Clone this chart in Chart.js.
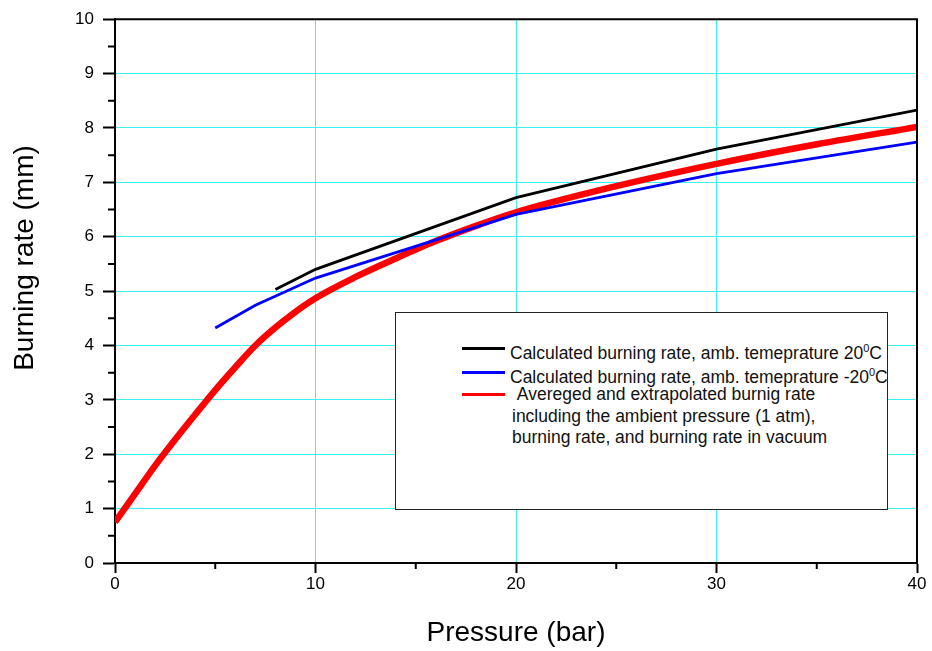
<!DOCTYPE html>
<html>
<head>
<meta charset="utf-8">
<script src="https://cdn.jsdelivr.net/npm/chart.js@4.4.1/dist/chart.umd.min.js"></script>
<style>
  html, body { margin: 0; padding: 0; background: #fff; }
  #quadro { position: relative; width: 932px; height: 651px; }
  #legenda {
    position: absolute; left: 395px; top: 312px; width: 493px; height: 198px;
    box-sizing: border-box; border: 1.5px solid #222; background: #fff;
    font-family: "Liberation Sans", Arial, sans-serif; font-size: 17.5px; color: #111;
  }
  .traco { position: absolute; left: 66px; width: 43px; height: 3px; }
  .texto { position: absolute; left: 114px; line-height: 21.5px; white-space: nowrap; }
  .sup { font-size: 11px; vertical-align: 7px; }
</style>
</head>
<body>
<div id="quadro">
  <canvas id="graficoQueima" width="932" height="651"></canvas>
  <div id="legenda">
    <div class="traco" style="top:34px;background:#000"></div>
    <div class="texto" style="top:25px">Calculated burning rate, amb. temeprature 20<span class="sup">0</span>C</div>
    <div class="traco" style="top:58px;background:#0000ff"></div>
    <div class="texto" style="top:49px">Calculated burning rate, amb. temeprature -20<span class="sup">0</span>C</div>
    <div class="traco" style="top:80px;background:#ff0000"></div>
    <div class="texto" style="top:71px;left:116px">&nbsp;Avereged and extrapolated burnig rate<br>including the ambient pressure (1 atm),<br>burning rate, and burning rate in vacuum</div>
  </div>
</div>
<script>
const pressaoPreto = [8, 10, 20, 30, 40];
const taxaPreto = [5.03, 5.40, 6.72, 7.61, 8.33];

const pressaoAzul = [5, 7, 10, 20, 30, 40];
const taxaAzul = [4.32, 4.74, 5.24, 6.41, 7.16, 7.74];

const pressaoVermelho = [0, 1, 2, 3, 4, 5, 6, 7, 8, 9, 10, 12, 14, 16, 18, 20, 25, 30, 35, 40];
const taxaVermelho = [0.75, 1.27, 1.79, 2.27, 2.73, 3.18, 3.6, 4.0, 4.33, 4.62, 4.87, 5.26, 5.6, 5.92, 6.2, 6.45, 6.93, 7.34, 7.7, 8.02];

const xMenores = [5, 15, 25, 35];
const yMenores = [0.5, 1.5, 2.5, 3.5, 4.5, 5.5, 6.5, 7.5, 8.5, 9.5];

const fonte = '"Liberation Sans", Arial, sans-serif';
const corGrade = "#40f0f0";

function pontos(xs, ys) {
  return xs.map((v, i) => ({ x: v, y: ys[i] }));
}

function corDaGrade(ctx, min, max) {
  const v = ctx.tick.value;
  if (v === min || v === max) return "rgba(0,0,0,0)";
  return corGrade;
}

const moldura = {
  id: "moldura",
  afterDraw(chart) {
    const { ctx, chartArea: a, scales } = chart;
    ctx.save();
    ctx.strokeStyle = "#000";
    ctx.lineWidth = 2;
    ctx.beginPath();
    ctx.moveTo(a.left, a.top);
    ctx.lineTo(a.right, a.top);
    ctx.lineTo(a.right, a.bottom);
    xMenores.forEach((v) => {
      const px = scales.x.getPixelForValue(v);
      ctx.moveTo(px, a.bottom);
      ctx.lineTo(px, a.bottom + 6);
    });
    yMenores.forEach((v) => {
      const py = scales.y.getPixelForValue(v);
      ctx.moveTo(a.left - 7, py);
      ctx.lineTo(a.left, py);
    });
    ctx.stroke();

    ctx.translate(25, 258);
    ctx.rotate(-Math.PI / 2);
    ctx.fillStyle = "#000";
    ctx.font = "28px " + fonte;
    ctx.textAlign = "center";
    ctx.textBaseline = "middle";
    ctx.fillText("Burning rate (mm)", 0, 0);
    ctx.restore();
  },
};

const graficoQueima = new Chart(document.getElementById("graficoQueima"), {
  type: "scatter",
  data: {
    datasets: [
      {
        label: "Calculated burning rate, amb. temeprature 20°C",
        data: pontos(pressaoPreto, taxaPreto),
        showLine: true,
        borderColor: "#000",
        borderWidth: 2.8,
        pointRadius: 0,
      },
      {
        label: "Calculated burning rate, amb. temeprature -20°C",
        data: pontos(pressaoAzul, taxaAzul),
        showLine: true,
        borderColor: "#0000ff",
        borderWidth: 2.8,
        pointRadius: 0,
      },
      {
        label: "Avereged and extrapolated burnig rate",
        data: pontos(pressaoVermelho, taxaVermelho),
        showLine: true,
        borderColor: "#ff0000",
        borderWidth: 6.5,
        pointRadius: 0,
        cubicInterpolationMode: "monotone",
      },
    ],
  },
  options: {
    responsive: false,
    animation: false,
    devicePixelRatio: 1,
    layout: { padding: { top: 18, right: 15, left: 0, bottom: 0 } },
    plugins: { legend: { display: false }, tooltip: { enabled: false } },
    scales: {
      x: {
        type: "linear",
        min: 0,
        max: 40,
        afterFit: (s) => { s.height = 88; },
        ticks: { stepSize: 10, color: "#000", padding: 1, font: { family: fonte, size: 17 } },
        grid: {
          color: (ctx) => corDaGrade(ctx, 0, 40),
          lineWidth: 1,
          tickColor: "#000",
          tickLength: 10,
          tickWidth: 2,
        },
        border: { display: true, color: "#000", width: 2 },
        title: {
          display: true,
          text: "Pressure (bar)",
          color: "#000",
          font: { family: fonte, size: 28 },
          padding: { top: 1, bottom: 1 },
        },
      },
      y: {
        type: "linear",
        min: 0,
        max: 10,
        afterFit: (s) => { s.width = 115; },
        ticks: { stepSize: 1, color: "#000", padding: 9, font: { family: fonte, size: 17 } },
        grid: {
          color: (ctx) => corDaGrade(ctx, 0, 10),
          lineWidth: 1,
          tickColor: "#000",
          tickLength: 12,
          tickWidth: 2,
        },
        border: { display: true, color: "#000", width: 2 },
      },
    },
  },
  plugins: [moldura],
});
</script>
</body>
</html>
